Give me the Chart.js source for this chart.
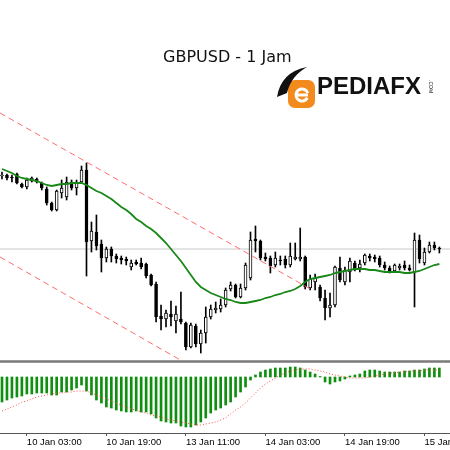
<!DOCTYPE html>
<html>
<head>
<meta charset="utf-8">
<script src="https://cdn.jsdelivr.net/npm/chart.js@4.4.1/dist/chart.umd.min.js"></script>
<style>
  html, body { margin: 0; padding: 0; background: #fff; }
  #wrap { position: relative; width: 450px; height: 450px; overflow: hidden; }
  #priceCanvas { position: absolute; left: 0; top: 0; }
  #macdCanvas { position: absolute; left: 0; top: 363px; }
  .sep { position: absolute; left: 0; width: 450px; height: 1px; }
</style>
</head>
<body>
<div id="wrap">
  <canvas id="priceCanvas" width="450" height="360"></canvas>
  <div class="sep" style="top:360px;background:#9a9a9a"></div>
  <div class="sep" style="top:361px;background:#7a7a7a"></div>
  <div class="sep" style="top:362px;background:#9a9a9a"></div>
  <canvas id="macdCanvas" width="450" height="87"></canvas>
</div>
<script>
// GBPUSD H1 candles, bar index 0..88
const opens = [
  1.30620, 1.30625, 1.30615, 1.30630, 1.30580, 1.30565, 1.30595, 1.30605, 1.30585, 1.30555,
  1.30485, 1.30450, 1.30535, 1.30515, 1.30590, 1.30560, 1.30590, 1.30650, 1.30295, 1.30340,
  1.30280, 1.30210, 1.30255, 1.30220, 1.30210, 1.30205, 1.30165, 1.30190, 1.30185, 1.30180,
  1.30125, 1.30080, 1.29920, 1.29905, 1.29930, 1.29895, 1.29905, 1.29885, 1.29765, 1.29870,
  1.29780, 1.29835, 1.29915, 1.29950, 1.29955, 1.29975, 1.30055, 1.30075, 1.30015, 1.30060,
  1.30110, 1.30305, 1.30295, 1.30215, 1.30210, 1.30175, 1.30200, 1.30205, 1.30175, 1.30205,
  1.30205, 1.30215, 1.30060, 1.30090, 1.30065, 1.30010, 1.29960, 1.29975, 1.30160, 1.30090,
  1.30140, 1.30185, 1.30160, 1.30185, 1.30220, 1.30215, 1.30210, 1.30175, 1.30160, 1.30145,
  1.30160, 1.30175, 1.30160, 1.30140, 1.30300, 1.30185, 1.30240, 1.30275, 1.30260
];
const highs = [
  1.30640, 1.30630, 1.30625, 1.30635, 1.30585, 1.30610, 1.30615, 1.30610, 1.30590, 1.30565,
  1.30490, 1.30550, 1.30600, 1.30615, 1.30600, 1.30600, 1.30670, 1.30685, 1.30390, 1.30425,
  1.30300, 1.30265, 1.30265, 1.30230, 1.30220, 1.30215, 1.30200, 1.30200, 1.30210, 1.30185,
  1.30130, 1.30090, 1.29975, 1.29950, 1.29995, 1.29970, 1.30040, 1.29890, 1.29885, 1.29880,
  1.29850, 1.29965, 1.29975, 1.29990, 1.30005, 1.30060, 1.30090, 1.30080, 1.30080, 1.30185,
  1.30340, 1.30370, 1.30300, 1.30235, 1.30220, 1.30240, 1.30220, 1.30220, 1.30285, 1.30285,
  1.30360, 1.30220, 1.30125, 1.30130, 1.30075, 1.30050, 1.30035, 1.30170, 1.30215, 1.30165,
  1.30210, 1.30195, 1.30200, 1.30230, 1.30230, 1.30225, 1.30220, 1.30190, 1.30170, 1.30180,
  1.30180, 1.30195, 1.30175, 1.30335, 1.30325, 1.30260, 1.30290, 1.30290, 1.30265
];
const lows = [
  1.30605, 1.30600, 1.30590, 1.30580, 1.30560, 1.30555, 1.30590, 1.30585, 1.30550, 1.30475,
  1.30445, 1.30445, 1.30510, 1.30500, 1.30550, 1.30525, 1.30585, 1.30120, 1.30240, 1.30250,
  1.30140, 1.30190, 1.30190, 1.30185, 1.30180, 1.30175, 1.30150, 1.30175, 1.30155, 1.30110,
  1.30070, 1.29890, 1.29850, 1.29865, 1.29870, 1.29835, 1.29880, 1.29750, 1.29760, 1.29765,
  1.29735, 1.29785, 1.29905, 1.29935, 1.29940, 1.29965, 1.30045, 1.30010, 1.30010, 1.30050,
  1.30100, 1.30240, 1.30200, 1.30195, 1.30135, 1.30165, 1.30175, 1.30160, 1.30165, 1.30200,
  1.30195, 1.30055, 1.30050, 1.30050, 1.29995, 1.29900, 1.29915, 1.29965, 1.30090, 1.30075,
  1.30090, 1.30145, 1.30140, 1.30175, 1.30195, 1.30190, 1.30165, 1.30150, 1.30135, 1.30140,
  1.30150, 1.30150, 1.30145, 1.29965, 1.30185, 1.30175, 1.30235, 1.30250, 1.30235
];
const closes = [
  1.30625, 1.30610, 1.30610, 1.30585, 1.30565, 1.30600, 1.30610, 1.30590, 1.30560, 1.30485,
  1.30450, 1.30545, 1.30560, 1.30590, 1.30560, 1.30590, 1.30650, 1.30290, 1.30345, 1.30270,
  1.30210, 1.30255, 1.30220, 1.30205, 1.30200, 1.30195, 1.30185, 1.30180, 1.30165, 1.30120,
  1.30075, 1.29915, 1.29905, 1.29935, 1.29915, 1.29930, 1.29890, 1.29765, 1.29875, 1.29780,
  1.29835, 1.29915, 1.29955, 1.29960, 1.29975, 1.30050, 1.30075, 1.30015, 1.30060, 1.30175,
  1.30300, 1.30295, 1.30210, 1.30205, 1.30170, 1.30210, 1.30195, 1.30175, 1.30220, 1.30215,
  1.30215, 1.30065, 1.30105, 1.30110, 1.30010, 1.29960, 1.29975, 1.30165, 1.30100, 1.30150,
  1.30195, 1.30155, 1.30180, 1.30225, 1.30210, 1.30205, 1.30175, 1.30160, 1.30145, 1.30175,
  1.30170, 1.30160, 1.30150, 1.30300, 1.30205, 1.30240, 1.30275, 1.30260, 1.30255
];
// moving average (green)
const maLine = [
  1.30655, 1.30645, 1.30635, 1.30620, 1.30610, 1.30605, 1.30600, 1.30595, 1.30585, 1.30575,
  1.30570, 1.30575, 1.30580, 1.30580, 1.30585, 1.30585, 1.30585, 1.30575, 1.30560, 1.30545,
  1.30535, 1.30520, 1.30505, 1.30485, 1.30465, 1.30450, 1.30430, 1.30405, 1.30390, 1.30370,
  1.30355, 1.30335, 1.30310, 1.30285, 1.30255, 1.30225, 1.30195, 1.30160, 1.30125, 1.30090,
  1.30065, 1.30050, 1.30035, 1.30025, 1.30015, 1.30005, 1.30000, 1.29990, 1.29985, 1.29985,
  1.29990, 1.29995, 1.30000, 1.30010, 1.30015, 1.30025, 1.30030, 1.30040, 1.30045, 1.30055,
  1.30070, 1.30090, 1.30105, 1.30110, 1.30115, 1.30120, 1.30125, 1.30135, 1.30140, 1.30145,
  1.30150, 1.30155, 1.30155, 1.30155, 1.30150, 1.30150, 1.30145, 1.30140, 1.30140, 1.30140,
  1.30140, 1.30135, 1.30135, 1.30140, 1.30145, 1.30155, 1.30165, 1.30175, 1.30180
];
// channel lines: [bar index, price] end points
const channelTop = [[-0.4, 1.30935], [62.4, 1.30050]];
const channelBottom = [[-0.4, 1.30215], [36.6, 1.29690]];
const lastPrice = 1.30255;

// MACD histogram and signal
const macdHist = [
  -0.00100, -0.00092, -0.00084, -0.00080, -0.00076, -0.00068, -0.00068, -0.00064, -0.00064, -0.00064,
  -0.00072, -0.00072, -0.00060, -0.00060, -0.00052, -0.00044, -0.00032, -0.00056, -0.00072, -0.00092,
  -0.00104, -0.00120, -0.00124, -0.00132, -0.00136, -0.00140, -0.00140, -0.00136, -0.00140, -0.00140,
  -0.00148, -0.00164, -0.00176, -0.00180, -0.00184, -0.00184, -0.00196, -0.00200, -0.00200, -0.00192,
  -0.00180, -0.00164, -0.00144, -0.00132, -0.00124, -0.00112, -0.00100, -0.00080, -0.00060, -0.00040,
  -0.00012, 0.00008, 0.00020, 0.00028, 0.00032, 0.00036, 0.00036, 0.00036, 0.00040, 0.00040,
  0.00036, 0.00028, 0.00020, 0.00012, 0.00002, -0.00020, -0.00028, -0.00020, -0.00016, -0.00008,
  0.00004, 0.00008, 0.00012, 0.00024, 0.00028, 0.00028, 0.00024, 0.00020, 0.00020, 0.00020,
  0.00020, 0.00024, 0.00024, 0.00028, 0.00028, 0.00032, 0.00036, 0.00036, 0.00036
];
const macdSignal = [
  -0.00136, -0.00128, -0.00120, -0.00112, -0.00100, -0.00096, -0.00088, -0.00080, -0.00076, -0.00072,
  -0.00068, -0.00064, -0.00064, -0.00060, -0.00060, -0.00056, -0.00056, -0.00056, -0.00064, -0.00072,
  -0.00080, -0.00088, -0.00096, -0.00104, -0.00112, -0.00120, -0.00128, -0.00132, -0.00140, -0.00144,
  -0.00152, -0.00156, -0.00160, -0.00168, -0.00172, -0.00176, -0.00180, -0.00184, -0.00188, -0.00192,
  -0.00192, -0.00188, -0.00184, -0.00180, -0.00172, -0.00164, -0.00148, -0.00132, -0.00120, -0.00104,
  -0.00084, -0.00064, -0.00044, -0.00028, -0.00016, -0.00004, 0.00008, 0.00016, 0.00024, 0.00028,
  0.00032, 0.00032, 0.00032, 0.00028, 0.00024, 0.00020, 0.00012, 0.00008, 0.00004, 0.00000,
  -0.00004, -0.00004, -0.00004, -0.00004, 0.00000, 0.00004, 0.00008, 0.00012, 0.00016, 0.00016,
  0.00020, 0.00020, 0.00024, 0.00024, 0.00024, 0.00028, 0.00028, 0.00028, 0.00028
];

// time axis
const tickIdx = [5, 21, 37, 53, 69, 85];
const tickLabels = ['10 Jan 03:00', '10 Jan 19:00', '13 Jan 11:00', '14 Jan 03:00', '14 Jan 19:00', '15 Jan 11:00'];

const xMin = -0.402;
const xMax = 90.14;

Chart.defaults.font.family = '"Liberation Sans", Arial, sans-serif';
Chart.defaults.animation = false;

const toXY = (arr) => arr.map((v, i) => ({ x: i, y: v }));

const logoPlugin = {
    id: 'logo',
    afterDraw(chart) {
        const ctx = chart.ctx;
        ctx.save();

        // title
        ctx.fillStyle = '#111';
        ctx.font = '16px "DejaVu Sans"';
        ctx.textBaseline = 'alphabetic';
        ctx.fillText('GBPUSD - 1 Jam', 163, 62);

        // icon: orange rounded square
        ctx.fillStyle = '#f28a1e';
        ctx.beginPath();
        ctx.roundRect(288, 80, 27, 28, 7);
        ctx.fill();

        // white "e" curve
        ctx.strokeStyle = '#fff';
        ctx.lineWidth = 3;
        ctx.beginPath();
        ctx.arc(302, 95, 6, Math.PI * 0.15, Math.PI * 1.9);
        ctx.stroke();
        ctx.beginPath();
        ctx.moveTo(296, 95);
        ctx.lineTo(308, 95);
        ctx.stroke();

        // black swoosh
        ctx.fillStyle = '#111';
        ctx.beginPath();
        ctx.moveTo(277, 97);
        ctx.quadraticCurveTo(281, 72, 307, 67);
        ctx.quadraticCurveTo(291, 76, 287, 93);
        ctx.closePath();
        ctx.fill();

        // brand text
        ctx.fillStyle = '#111';
        ctx.font = 'bold 24px "Liberation Sans"';
        ctx.fillText('PEDIAFX', 317, 94);

        ctx.translate(429, 80);
        ctx.rotate(Math.PI / 2);
        ctx.font = '5px "Liberation Sans"';
        ctx.fillText('.COM', 0, 0);

        ctx.restore();
    },
};

new Chart(document.getElementById('priceCanvas'), {
    data: {
        datasets: [
            {
                type: 'line',
                data: toXY(maLine),
                borderColor: '#188818',
                borderWidth: 1.8,
                pointRadius: 0,
                order: 1,
            },
            {
                type: 'line',
                data: channelTop.map(([x, y]) => ({ x, y })),
                borderColor: '#ff6c6c',
                borderWidth: 1,
                borderDash: [6, 4],
                pointRadius: 0,
                order: 2,
            },
            {
                type: 'line',
                data: channelBottom.map(([x, y]) => ({ x, y })),
                borderColor: '#ff6c6c',
                borderWidth: 1,
                borderDash: [6, 4],
                pointRadius: 0,
                order: 2,
            },
            {
                type: 'bar',
                data: opens.map((o, i) => ({ x: i, y: [o, closes[i]] })),
                backgroundColor: opens.map((o, i) => (closes[i] >= o ? '#ffffff' : '#000000')),
                borderColor: '#000',
                borderWidth: 1,
                borderSkipped: false,
                barThickness: 3,
                grouped: false,
                order: 3,
            },
            {
                type: 'bar',
                data: lows.map((l, i) => ({ x: i, y: [l, highs[i]] })),
                backgroundColor: '#000',
                barThickness: 1,
                grouped: false,
                order: 4,
            },
            {
                type: 'line',
                data: [{ x: xMin, y: lastPrice }, { x: xMax, y: lastPrice }],
                borderColor: '#c8c8c8',
                borderWidth: 1,
                pointRadius: 0,
                order: 5,
            },
        ],
    },
    options: {
        responsive: false,
        layout: { padding: 0 },
        plugins: { legend: { display: false }, tooltip: { enabled: false } },
        scales: {
            x: { type: 'linear', min: xMin, max: xMax, offset: false, display: false },
            y: { type: 'linear', min: 1.2970, max: 1.3150, display: false },
        },
    },
    plugins: [logoPlugin],
});

new Chart(document.getElementById('macdCanvas'), {
    data: {
        datasets: [
            {
                type: 'line',
                data: toXY(macdSignal),
                borderColor: '#ff5050',
                borderWidth: 1,
                borderDash: [1, 2],
                pointRadius: 0,
                order: 1,
            },
            {
                type: 'bar',
                data: toXY(macdHist),
                backgroundColor: '#0f8f0f',
                barThickness: 2,
                grouped: false,
                order: 2,
            },
        ],
    },
    options: {
        responsive: false,
        layout: { padding: 0 },
        plugins: { legend: { display: false }, tooltip: { enabled: false } },
        scales: {
            x: {
                type: 'linear',
                min: xMin,
                max: xMax,
                offset: false,
                afterBuildTicks: (scale) => {
                    scale.ticks = tickIdx.map((v) => ({ value: v }));
                },
                afterFit: (scale) => {
                    scale.height = 17;
                    scale.paddingLeft = 0;
                    scale.paddingRight = 0;
                },
                grid: { offset: false, drawOnChartArea: false, drawTicks: true, tickLength: 3, color: '#555' },
                border: { display: true, color: '#555', width: 1 },
                ticks: {
                    autoSkip: false,
                    maxRotation: 0,
                    align: 'start',
                    padding: 1,
                    color: '#000',
                    font: { size: 9.5 },
                    callback: (value, index) => tickLabels[index],
                },
            },
            y: { type: 'linear', min: -0.00224, max: 0.00056, display: false },
        },
    },
});
</script>
</body>
</html>
